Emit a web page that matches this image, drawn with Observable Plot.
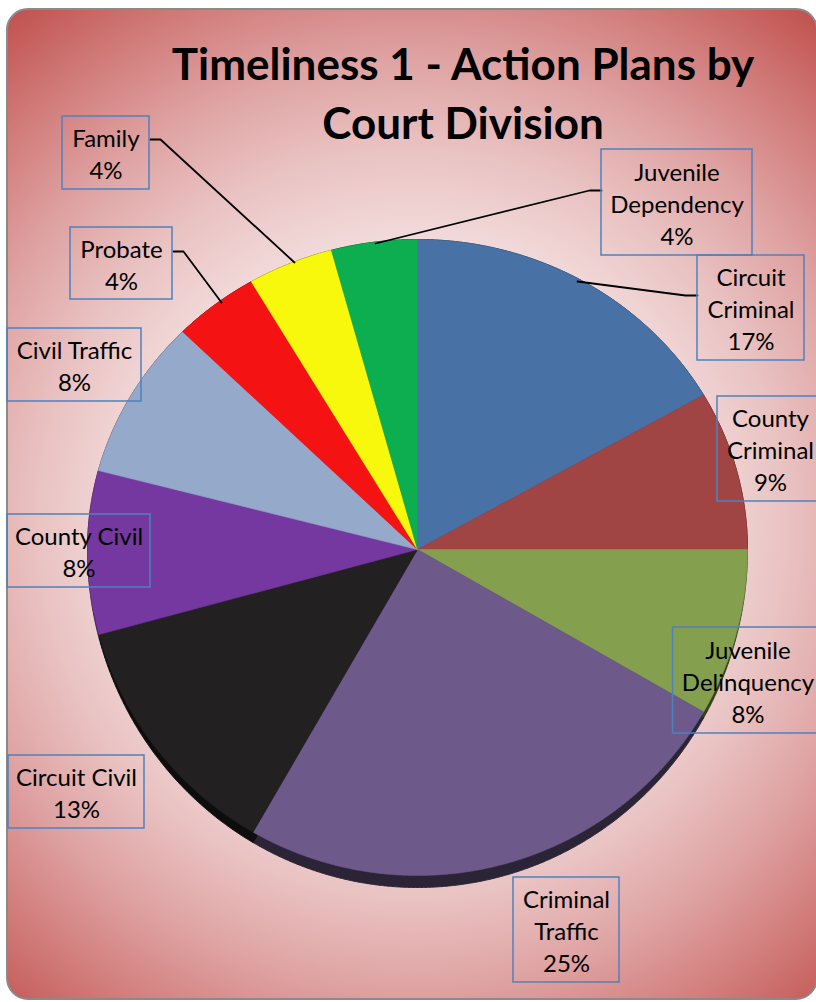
<!DOCTYPE html>
<html>
<head>
<meta charset="utf-8">
<script src="https://cdn.jsdelivr.net/npm/d3@7"></script>
<script src="https://cdn.jsdelivr.net/npm/@observablehq/plot@0.6"></script>
<style>
html, body { margin: 0; padding: 0; background: #ffffff; }
#wrap { position: relative; width: 816px; height: 1002px; overflow: hidden; }
#bg {
  position: absolute; left: 6px; top: 8px; width: 812px; height: 992px; box-sizing: border-box;
  border: 2px solid #8a8a8a; border-radius: 22px;
  background: radial-gradient(circle farthest-corner at 50% 52%,
    #ffffff 0%, #fbf0f0 24%, #f3dddd 42%, #eac3c3 57%, #dfa3a3 71%, #d07a78 86%, #c0504d 100%);
}
#chart { position: absolute; left: 0; top: 0; }
#title {
  position: absolute; left: 113px; width: 700px; top: 34px; text-align: center;
  font-family: Lato, "Open Sans", sans-serif; font-weight: bold; font-size: 44px; line-height: 59px; color: #000;
}
</style>
</head>
<body>
<div id="wrap">
  <div id="bg"></div>
  <div id="chart"></div>
  <div id="title">Timeliness 1 - Action Plans by<br>Court Division</div>
</div>
<script>
// ---- data ----
const categories = ["Circuit Criminal", "County Criminal", "Juvenile Delinquency", "Criminal Traffic", "Circuit Civil",
  "County Civil", "Civil Traffic", "Probate", "Family", "Juvenile Dependency"];
const shares = [16.7, 8.3, 8.3, 25.0, 12.5, 8.3, 8.3, 4.2, 4.2, 4.2];
const pctLabels = ["17%", "9%", "8%", "25%", "13%", "8%", "8%", "4%", "4%", "4%"];
const colors = ["#4872A6", "#A04543", "#84A04F", "#6D5A8A", "#222021", "#7538A0", "#95A9CB", "#F51212", "#F8F80C", "#0DAE50"];
const nameLines = ["Circuit\nCriminal", "County\nCriminal", "Juvenile\nDelinquency", "Criminal\nTraffic", "Circuit Civil",
  "County Civil", "Civil Traffic", "Probate", "Family", "Juvenile\nDependency"];

// ---- layout (pixels) ----
const W = 816, H = 1002;
const CX = 417, CY = 549, RX = 330, RTOP = 310, RBOT = 326, DEPTH = 12;
const boxLayout = [ // [centerX, centerY, width, height]
  [750.5, 307.5, 107, 105], [770, 448.5, 106, 105], [747.5, 680, 150, 106], [566, 929.5, 106, 105],
  [76, 791.5, 136, 73], [78.5, 550.5, 143, 73], [74, 364.5, 134, 73], [121, 263, 102, 72],
  [105.5, 152.5, 87, 73], [676.5, 202, 151, 106]
];
const leaderLayout = {
  "Circuit Criminal": [[697, 295], [685, 295], [577, 281]],
  "Probate": [[173, 251], [183, 251], [221, 302]],
  "Family": [[150, 139], [160, 139], [294, 262]],
  "Juvenile Dependency": [[601, 190], [589, 190], [375, 243]]
};

// ---- geometry ----
const arcs = d3.pie().sort(null).value(d => d)(shares);
function pt(a, depth) {
  const c = Math.cos(a);
  const dy = depth * Math.max(0, -c);
  return {x: CX + RX * Math.sin(a), y: CY - (c > 0 ? RTOP : RBOT) * c + dy};
}
function slicePoly(arc, depth) {
  const pts = [{x: CX, y: CY}];
  const n = Math.max(2, Math.ceil((arc.endAngle - arc.startAngle) / 0.004));
  for (let i = 0; i <= n; i++) pts.push(pt(arc.startAngle + (arc.endAngle - arc.startAngle) * i / n, depth));
  pts.push({x: CX, y: CY});
  return pts;
}

const marks = [];
// shadow / depth
arcs.forEach((arc, i) => {
  const c = d3.color(colors[i]).darker(2.6).formatHex();
  marks.push(Plot.line(slicePoly(arc, DEPTH), {x: "x", y: "y", fill: c, stroke: c, strokeWidth: 1}));
});
// top face
arcs.forEach((arc, i) => {
  marks.push(Plot.line(slicePoly(arc, 0), {x: "x", y: "y", fill: colors[i], stroke: colors[i], strokeWidth: 0.6}));
});
// leader lines
const leaderData = [];
Object.entries(leaderLayout).forEach(([k, pts]) => pts.forEach(p => leaderData.push({key: k, x: p[0], y: p[1]})));
marks.push(Plot.line(leaderData, {x: "x", y: "y", z: "key", stroke: "#000", strokeWidth: 1.8}));
// label boxes + text
const labels = categories.map((c, i) => ({
  name: c, text: nameLines[i] + "\n" + pctLabels[i],
  cx: boxLayout[i][0], cy: boxLayout[i][1], w: boxLayout[i][2], h: boxLayout[i][3]
}));
marks.push(Plot.rect(labels, {
  x1: d => d.cx - d.w / 2, x2: d => d.cx + d.w / 2, y1: d => d.cy - d.h / 2, y2: d => d.cy + d.h / 2,
  fill: "none", stroke: "#4F81BD", strokeWidth: 1.5
}));
marks.push(Plot.text(labels, {
  x: "cx", y: "cy", text: "text", fontSize: 24, fontFamily: "Lato", lineHeight: 1.333,
  textAnchor: "middle", fill: "#000"
}));

const chart = Plot.plot({
  width: W, height: H, margin: 0,
  x: {type: "linear", domain: [0, W], range: [0, W], axis: null},
  y: {type: "linear", domain: [0, H], range: [0, H], axis: null},
  style: {background: "transparent", overflow: "visible"},
  marks
});
document.getElementById("chart").appendChild(chart);
</script>
</body>
</html>
